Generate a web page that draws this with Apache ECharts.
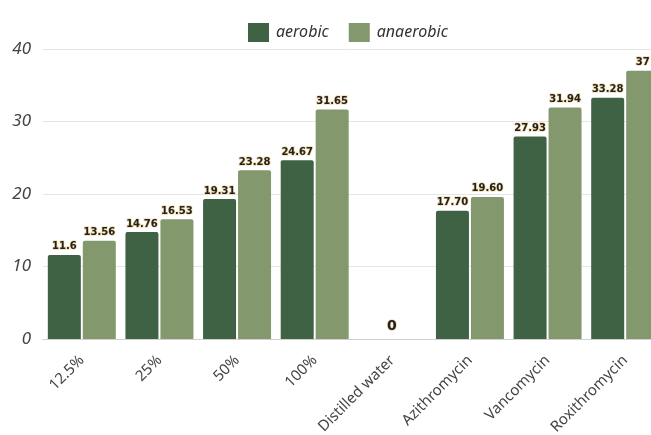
<!DOCTYPE html>
<html>
<head>
<meta charset="utf-8">
<script src="https://cdn.jsdelivr.net/npm/echarts@6/dist/echarts.min.js"></script>
<style>
  html, body { margin: 0; padding: 0; background: #fff; }
  #chart { width: 651px; height: 435px; }
</style>
</head>
<body>
<div id="chart"></div>
<script>
// Inhibition zones by treatment, aerobic vs anaerobic
const categories = ['12.5%', '25%', '50%', '100%', 'Distilled water', 'Azithromycin', 'Vancomycin', 'Roxithromycin'];
const aerobic = [11.6, 14.76, 19.31, 24.67, 0, 17.70, 27.93, 33.28];
const anaerobic = [13.56, 16.53, 23.28, 31.65, 0, 19.60, 31.94, 37];
const aerobicLabels = ['11.6', '14.76', '19.31', '24.67', '0', '17.70', '27.93', '33.28'];
const anaerobicLabels = ['13.56', '16.53', '23.28', '31.65', '', '19.60', '31.94', '37'];
const yTicks = [0, 10, 20, 30, 40];

const FONT = '"Noto Sans", "DejaVu Sans", sans-serif';

const valueLabel = {
  show: true,
  position: 'top',
  distance: 3,
  fontFamily: '"DejaVu Sans", sans-serif',
  fontSize: 10,
  fontWeight: 'bold',
  color: '#222',
  textBorderColor: '#f3dcaa',
  textBorderWidth: 1.5
};

function buildData(values, labels, isFirst) {
  return values.map((v, i) => {
    const item = { value: v };
    if (v === 0) {
      // single centred label for the zero-valued group
      item.label = isFirst
        ? { show: true, formatter: labels[i], fontSize: 14, offset: [17, -3] }
        : { show: false };
    }
    return item;
  });
}

const chart = echarts.init(document.getElementById('chart'), null, { renderer: 'canvas' });
chart.setOption({
  animation: false,
  legend: {
    top: 18,
    left: 243,
    itemWidth: 21,
    itemHeight: 19,
    itemGap: 20,
    icon: 'rect',
    textStyle: { fontFamily: FONT, fontStyle: 'italic', fontSize: 16, color: '#333', padding: [0, 0, 0, 2] }
  },
  // plot area runs a little past the right edge of the canvas
  grid: { left: 43, top: 49, width: 621, height: 290, containLabel: false, outerBoundsMode: 'none' },
  xAxis: {
    type: 'category',
    data: categories,
    axisLine: { lineStyle: { color: '#d0d0d0' } },
    axisTick: { show: false },
    axisLabel: {
      interval: 0,
      rotate: 45,
      margin: 19,
      fontFamily: FONT,
      fontSize: 15,
      color: '#444'
    }
  },
  yAxis: {
    type: 'value',
    min: yTicks[0],
    max: yTicks[yTicks.length - 1],
    interval: 10,
    axisLine: { show: false },
    axisTick: { show: false },
    splitLine: { lineStyle: { color: '#e6e6e6' } },
    axisLabel: {
      margin: 12,
      fontFamily: FONT,
      fontStyle: 'italic',
      fontSize: 17,
      color: '#444'
    }
  },
  series: [
    {
      name: 'aerobic',
      type: 'bar',
      barWidth: 33,
      barGap: '6%',
      itemStyle: { color: '#3f6244', borderRadius: [2, 2, 0, 0] },
      label: Object.assign({}, valueLabel, {
        formatter: p => aerobicLabels[p.dataIndex]
      }),
      data: buildData(aerobic, aerobicLabels, true)
    },
    {
      name: 'anaerobic',
      type: 'bar',
      barWidth: 33,
      barGap: '6%',
      itemStyle: { color: '#83986c', borderRadius: [2, 2, 0, 0] },
      label: Object.assign({}, valueLabel, {
        formatter: p => anaerobicLabels[p.dataIndex]
      }),
      data: buildData(anaerobic, anaerobicLabels, false)
    }
  ]
});
</script>
</body>
</html>
